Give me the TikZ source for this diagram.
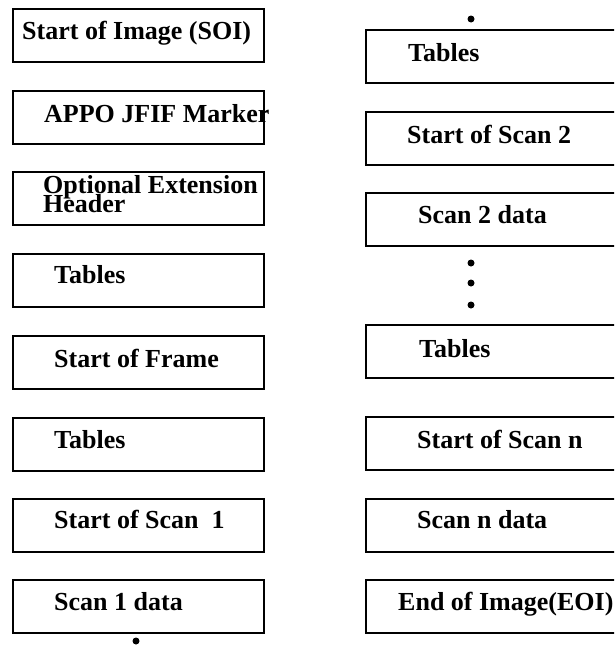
\documentclass[tikz,border=0pt]{standalone}
\usepackage{fontspec}
\setmainfont{Liberation Serif}
\begin{document}
\begin{tikzpicture}[x=1pt,y=-1pt,
  box/.style={draw=black, line width=1.8pt, anchor=north west, inner sep=0pt,
    minimum height=53pt},
  lbox/.style={box, minimum width=251pt},
  rbox/.style={box, minimum width=260pt},
  txt/.style={anchor=base west, inner sep=0pt, font=\fontsize{26}{19}\selectfont\bfseries},
  dot/.style={circle, fill=black, inner sep=0pt, minimum size=7pt}]
\useasboundingbox (0,0) rectangle (614,648);
\clip (0,0) rectangle (614,648);
% left column
\node[lbox] (b1) at (12,8) {};
\node[lbox] (b2) at (12,90) {};
\node[lbox] (b3) at (12,171) {};
\node[lbox] (b4) at (12,253) {};
\node[lbox] (b5) at (12,335) {};
\node[lbox] (b6) at (12,417) {};
\node[lbox] (b7) at (12,498) {};
\node[lbox] (b8) at (12,579) {};
\node[txt] (t1) at (22,39) {Start of Image (SOI)};
\node[txt] (t2) at (44,122) {APPO JFIF Marker};
\node[txt] (t3a) at (43,193) {Optional Extension};
\node[txt] (t3b) at (43,212) {Header};
\node[txt] (t4) at (54,283) {Tables};
\node[txt] (t5) at (54,367) {Start of Frame};
\node[txt] (t6) at (54,448) {Tables};
\node[txt] (t7) at (54,528) {Start of Scan\ \ 1};
\node[txt] (t8) at (54,610) {Scan 1 data};
\node[dot] (d0) at (136,641) {};
% right column
\node[rbox] (r1) at (365,29) {};
\node[rbox] (r2) at (365,111) {};
\node[rbox] (r3) at (365,192) {};
\node[rbox] (r4) at (365,324) {};
\node[rbox] (r5) at (365,416) {};
\node[rbox] (r6) at (365,498) {};
\node[rbox] (r7) at (365,579) {};
\node[txt] (s1) at (408,61) {Tables};
\node[txt] (s2) at (407,143) {Start of Scan 2};
\node[txt] (s3) at (418,223) {Scan 2 data};
\node[txt] (s4) at (419,357) {Tables};
\node[txt] (s5) at (417,448) {Start of Scan n};
\node[txt] (s6) at (417,528) {Scan n data};
\node[txt] (s7) at (398,610) {End of Image(EOI)};
\node[dot] (d1) at (471,19) {};
\node[dot] (d2) at (471,263) {};
\node[dot] (d3) at (471,283) {};
\node[dot] (d4) at (471,305) {};
\end{tikzpicture}
\end{document}
